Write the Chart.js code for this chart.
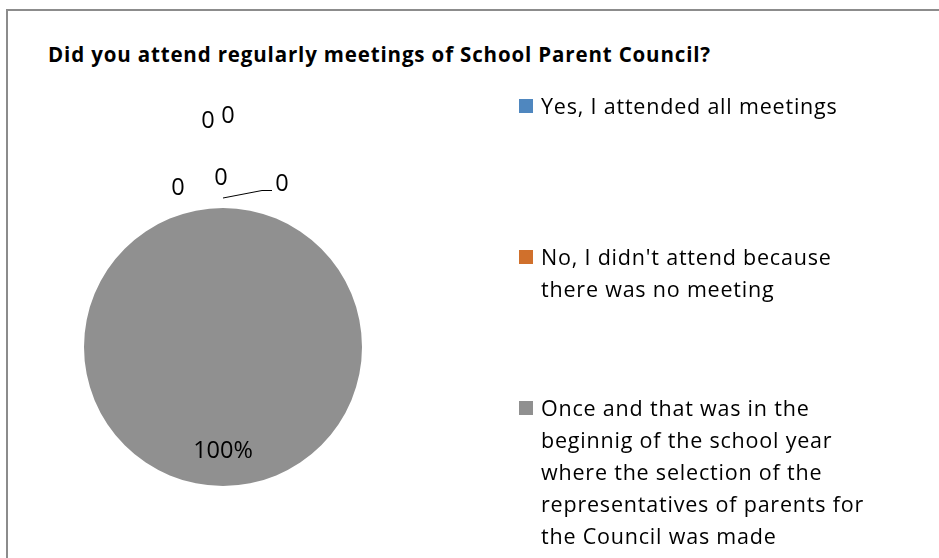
<!DOCTYPE html>
<html>
<head>
<meta charset="utf-8">
<title>School Parent Council meetings</title>
<script src="https://cdn.jsdelivr.net/npm/chart.js@4.4.1/dist/chart.umd.min.js"></script>
<style>
    body {
        margin: 0;
        width: 939px;
        height: 558px;
        overflow: hidden;
        background: #fff;
        font-family: "Open Sans", Lato, sans-serif;
        color: #000;
    }
    .frame {
        position: absolute;
        left: 6px;
        top: 9px;
        width: 1000px;
        height: 700px;
        border-left: 2px solid #8c8c8c;
        border-top: 2px solid #8c8c8c;
    }
    #title {
        position: absolute;
        left: 48px;
        top: 40px;
        font-size: 20.5px;
        font-weight: bold;
        letter-spacing: 0.85px;
        white-space: nowrap;
    }
    #pieCanvas {
        position: absolute;
        left: 0;
        top: 0;
    }
    #legend {
        position: absolute;
        left: 519px;
        top: 90px;
    }
    .legend-item {
        display: flex;
        align-items: flex-start;
        height: 151px;
        font-size: 21.5px;
        letter-spacing: 0.8px;
        line-height: 32px;
        white-space: nowrap;
    }
    .legend-swatch {
        flex: none;
        width: 14px;
        height: 14px;
        margin: 9px 8px 0 0;
    }
</style>
</head>
<body>
<div class="frame"></div>
<div id="title">Did you attend regularly meetings of School Parent Council?</div>
<canvas id="pieCanvas" width="939" height="558"></canvas>
<div id="legend"></div>

<script>
// Answer categories (legend lines as drawn)
const categories = [
    ['Yes, I attended all meetings'],
    ['No, I didn\'t attend because', 'there was no meeting'],
    ['Once and that was in the', 'beginnig of the school year', 'where the selection of the', 'representatives of parents for', 'the Council was made'],
    [''],
    [''],
    ['']
];

// Share of answers, percent
const values = [0, 0, 100, 0, 0, 0];

// Text shown next to each slice
const valueLabels = ['0', '0', '100%', '0', '0', '0'];

const sliceColors = ['#4f87bf', '#d0702c', '#909090', '#e0b000', '#3d6eb0', '#5f9b3a'];

// Zero slices all sit at the top of the pie, so their labels are spread apart
const labelOffsets = [[-45, 0], [-2, -10], [0, 0], [59, -4], [-15, -67], [5, -72]];
const leaderIndex = 3;

// Build the legend
function renderLegend() {
    const container = document.getElementById('legend');
    container.innerHTML = categories
        .map((lines, i) => lines[0] === '' ? '' : `
            <div class="legend-item">
                <span class="legend-swatch" style="background:${sliceColors[i]}"></span>
                <span>${lines.join('<br>')}</span>
            </div>
        `).join('');
}

// Slice value labels, with a leader line for the one pushed aside
const sliceLabels = {
    id: 'sliceLabels',
    afterDatasetsDraw(chart) {
        const ctx = chart.ctx;
        const meta = chart.getDatasetMeta(0);
        ctx.save();
        ctx.font = '23.5px "Open Sans", Lato, sans-serif';
        ctx.fillStyle = '#000';
        ctx.textAlign = 'center';
        ctx.textBaseline = 'middle';

        meta.data.forEach((arc, i) => {
            const p = arc.getProps(['x', 'y', 'startAngle', 'endAngle', 'outerRadius'], true);
            const mid = (p.startAngle + p.endAngle) / 2;
            let lx, ly;
            if (values[i] > 0) {
                // inside end of the slice
                const r = p.outerRadius * 0.75;
                lx = p.x + Math.cos(mid) * r;
                ly = p.y + Math.sin(mid) * r;
            } else {
                const r = p.outerRadius + 20;
                lx = p.x + Math.cos(mid) * r + labelOffsets[i][0];
                ly = p.y + Math.sin(mid) * r + labelOffsets[i][1];
            }

            if (i === leaderIndex) {
                const sx = p.x + Math.cos(mid) * (p.outerRadius + 10);
                const sy = p.y + Math.sin(mid) * (p.outerRadius + 10);
                ctx.beginPath();
                ctx.strokeStyle = '#000';
                ctx.lineWidth = 1;
                ctx.moveTo(sx, sy);
                ctx.lineTo(lx - 20, ly + 6.5);
                ctx.lineTo(lx - 10, ly + 6.5);
                ctx.stroke();
            }

            ctx.fillText(valueLabels[i], lx, ly);
        });
        ctx.restore();
    }
};

function renderPie() {
    const ctx = document.getElementById('pieCanvas');
    new Chart(ctx, {
        type: 'pie',
        data: {
            labels: categories.map(lines => lines.join(' ')),
            datasets: [{
                data: values,
                backgroundColor: sliceColors,
                borderWidth: 0
            }]
        },
        options: {
            responsive: false,
            animation: false,
            layout: {
                padding: { left: 84, top: 208, right: 577, bottom: 72 }
            },
            plugins: {
                legend: { display: false },
                tooltip: { enabled: false }
            }
        },
        plugins: [sliceLabels]
    });
}

document.fonts.load('23px "Open Sans"').then(() => {
    renderLegend();
    renderPie();
});
</script>
</body>
</html>
